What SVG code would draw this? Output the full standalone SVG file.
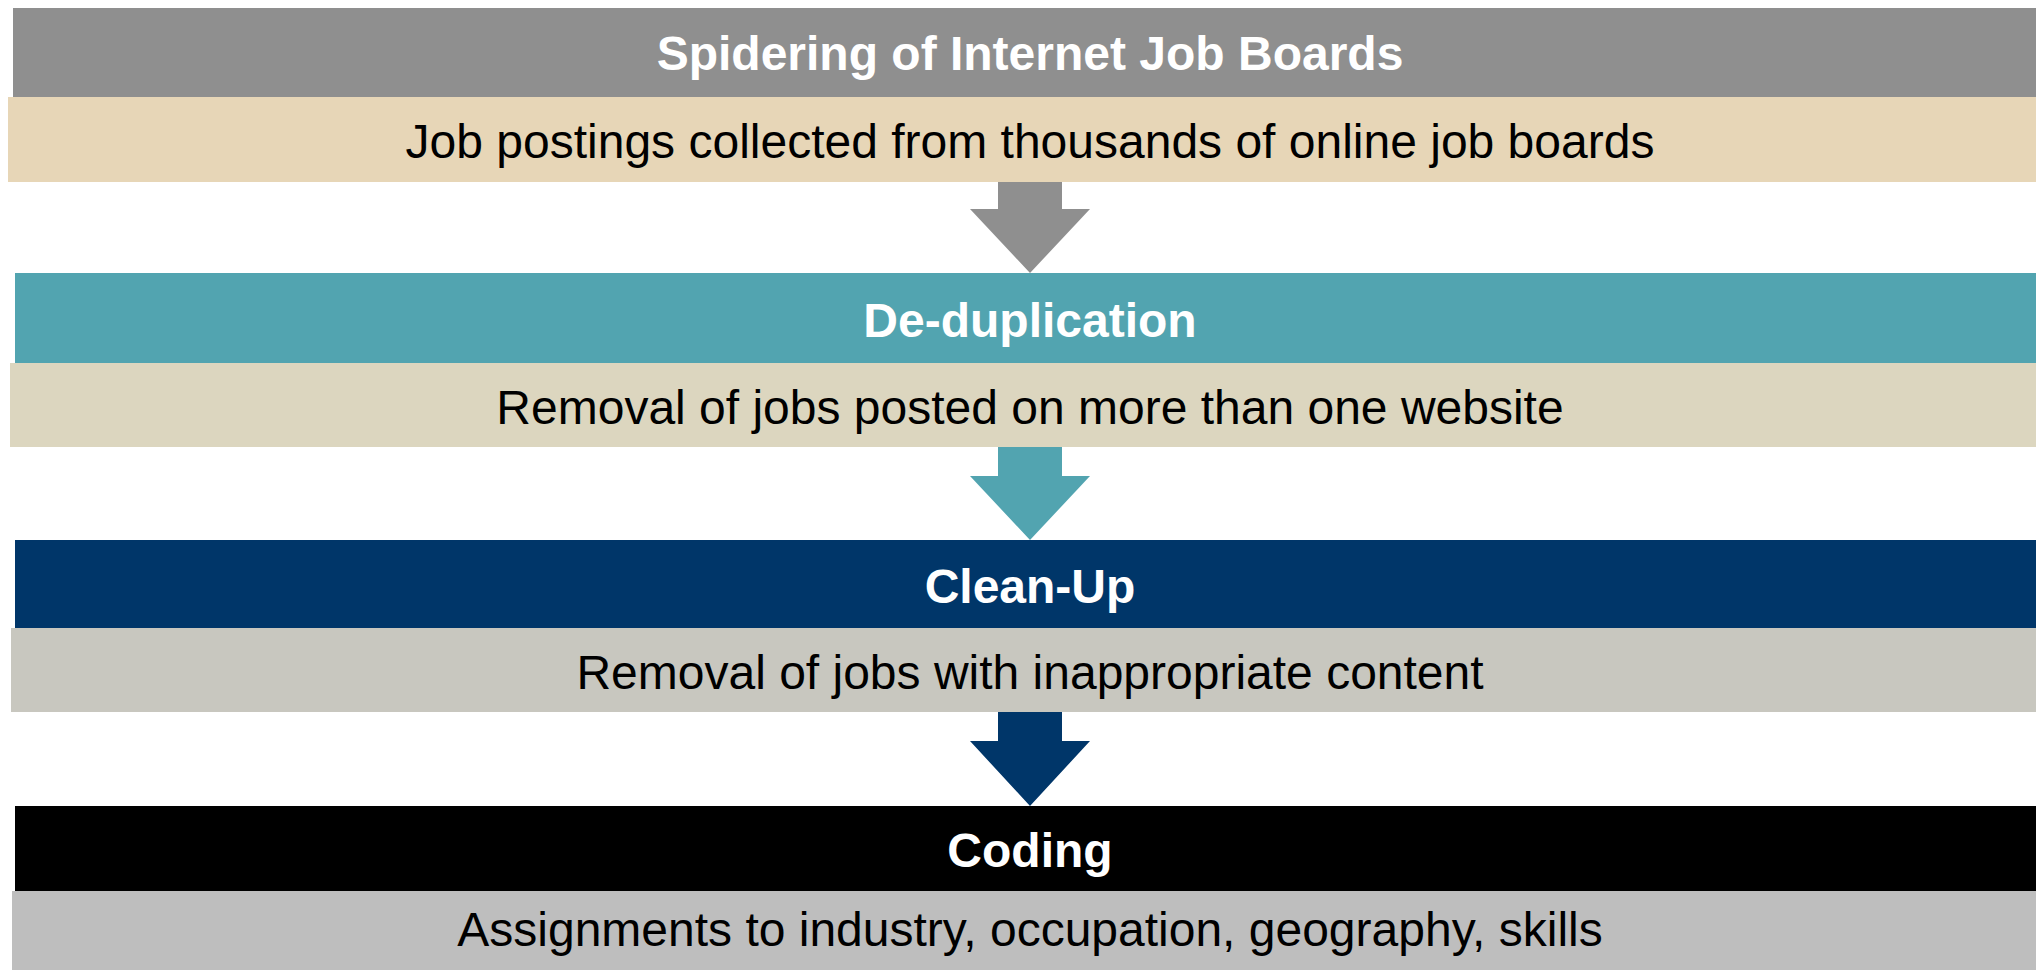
<svg xmlns="http://www.w3.org/2000/svg" width="2036" height="970" viewBox="0 0 2036 970">
<style>
.hd{font-family:"Liberation Sans",Arial,sans-serif;font-weight:bold;font-size:48px;fill:#ffffff;text-anchor:middle}
.bd{font-family:"Liberation Sans",Arial,sans-serif;font-size:48px;fill:#000000;text-anchor:middle}
</style>
<rect width="2036" height="970" fill="#ffffff"/>
<g id="stage-spidering">
<rect x="13" y="8" width="2030" height="89" fill="#8f8f8f"/>
<rect x="8" y="97" width="2035" height="85" fill="#e7d6b7"/>
<text class="hd" x="1030" y="70">Spidering of Internet Job Boards</text>
<text class="bd" x="1030" y="158">Job postings collected from thousands of online job boards</text>
</g>
<g id="stage-deduplication">
<rect x="15" y="273" width="2030" height="90" fill="#52a4b0"/>
<rect x="10" y="363" width="2035" height="84" fill="#dcd6bf"/>
<text class="hd" x="1030" y="337">De-duplication</text>
<text class="bd" x="1030" y="424">Removal of jobs posted on more than one website</text>
</g>
<g id="stage-cleanup">
<rect x="15" y="540" width="2030" height="88" fill="#003669"/>
<rect x="11" y="628" width="2035" height="84" fill="#c8c7bf"/>
<text class="hd" x="1030" y="603">Clean-Up</text>
<text class="bd" x="1030" y="689">Removal of jobs with inappropriate content</text>
</g>
<g id="stage-coding">
<rect x="15" y="806" width="2030" height="85" fill="#000000"/>
<rect x="12" y="891" width="2035" height="90" fill="#bebebe"/>
<text class="hd" x="1030" y="867">Coding</text>
<text class="bd" x="1030" y="946">Assignments to industry, occupation, geography, skills</text>
</g>
<g id="connectors">
<polygon points="998,182 1062,182 1062,209 1090,209 1030,273 970,209 998,209" fill="#8f8f8f"/>
<polygon points="998,447 1062,447 1062,476 1090,476 1030,540 970,476 998,476" fill="#52a4b0"/>
<polygon points="998,712 1062,712 1062,741 1090,741 1030,806 970,741 998,741" fill="#003669"/>
</g>
</svg>
